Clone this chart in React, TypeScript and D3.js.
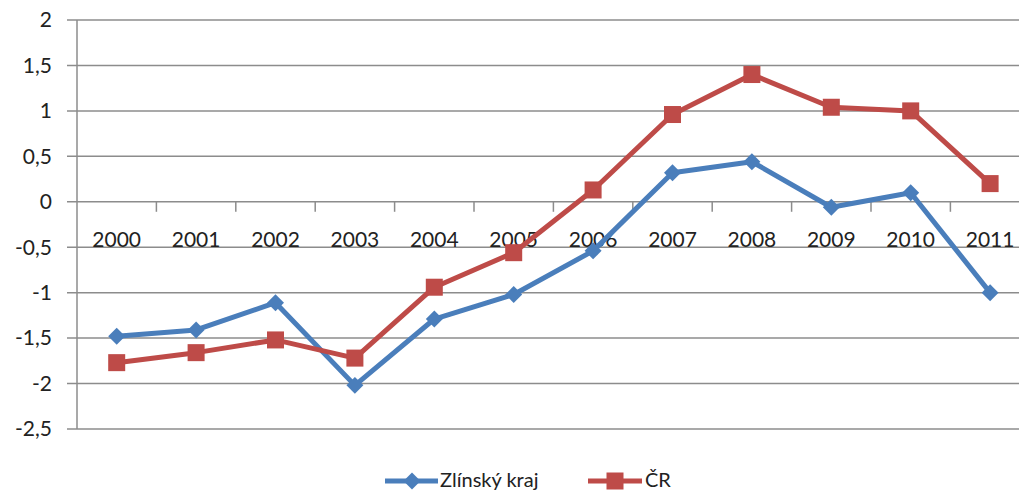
import React from "react";
import * as d3 from "d3";

const years = ["2000","2001","2002","2003","2004","2005","2006","2007","2008","2009","2010","2011"];
const zlinsky = [-1.48,-1.41,-1.11,-2.02,-1.29,-1.02,-0.54,0.32,0.44,-0.06,0.10,-1.00];
const cr = [-1.77,-1.66,-1.52,-1.72,-0.94,-0.56,0.13,0.96,1.40,1.04,1.00,0.20];
const yTicks = [2,1.5,1,0.5,0,-0.5,-1,-1.5,-2,-2.5];
const seriesNames = ["Zlínský kraj", "ČR"];

const W = 1019, H = 493;
const left = 77, top = 20, bottom = 429;
const band = 79.4;
const FONT = "Lato, 'Open Sans', sans-serif";
const BLUE = "#4A7EBB";
const RED = "#BE4B48";
const GRID = "#8c8c8c";

export default function App() {
  const x = d3.scaleBand<string>().domain(years).range([left, left + band * years.length]).padding(0);
  const y = d3.scaleLinear().domain([-2.5, 2]).range([bottom, top]);
  const cx = (yr: string) => (x(yr) as number) + x.bandwidth() / 2;
  const line = d3.line<number>().x((_, i) => cx(years[i])).y((d) => y(d));
  const fmt = (v: number) => String(v).replace(".", ",");
  const y0 = y(0);

  return (
    <svg width={W} height={H} style={{ position: "absolute", left: 0, top: 0, background: "#fff" }}>
      {yTicks.map((t) => (
        <g key={t}>
          <line x1={left - 10} x2={W} y1={y(t)} y2={y(t)} stroke={GRID} strokeWidth={1.5} />
          <text x={52} y={y(t)} dy="0.35em" textAnchor="end" fontFamily={FONT} fontSize={21} fill="#222">{fmt(t)}</text>
        </g>
      ))}
      <line x1={left} x2={left} y1={top} y2={bottom} stroke={GRID} strokeWidth={1.5} />
      {years.map((yr, i) => (
        <g key={yr}>
          {i > 0 && <line x1={x(yr) as number} x2={x(yr) as number} y1={y0} y2={y0 + 10} stroke={GRID} strokeWidth={1.5} />}
          <text x={cx(yr)} y={y0 + 45} textAnchor="middle" fontFamily={FONT} fontSize={21} fill="#222">{yr}</text>
        </g>
      ))}
      <path d={line(zlinsky) as string} fill="none" stroke={BLUE} strokeWidth={5} strokeLinejoin="round" />
      {zlinsky.map((v, i) => (
        <rect key={i} x={cx(years[i]) - 6} y={y(v) - 6} width={12} height={12} fill={BLUE}
          transform={`rotate(45 ${cx(years[i])} ${y(v)})`} />
      ))}
      <path d={line(cr) as string} fill="none" stroke={RED} strokeWidth={5} strokeLinejoin="round" />
      {cr.map((v, i) => (
        <rect key={i} x={cx(years[i]) - 8.5} y={y(v) - 8.5} width={17} height={17} fill={RED} />
      ))}
      {/* legend */}
      <g>
        <line x1={385} x2={438} y1={481} y2={481} stroke={BLUE} strokeWidth={5} />
        <rect x={406} y={475} width={12} height={12} fill={BLUE} transform="rotate(45 412 481)" />
        <text x={440} y={487} fontFamily={FONT} fontSize={20} fill="#222">{seriesNames[0]}</text>
        <line x1={588} x2={642} y1={481} y2={481} stroke={RED} strokeWidth={5} />
        <rect x={606.5} y={472.5} width={17} height={17} fill={RED} />
        <text x={645} y={487} fontFamily={FONT} fontSize={20} fill="#222">{seriesNames[1]}</text>
      </g>
    </svg>
  );
}
